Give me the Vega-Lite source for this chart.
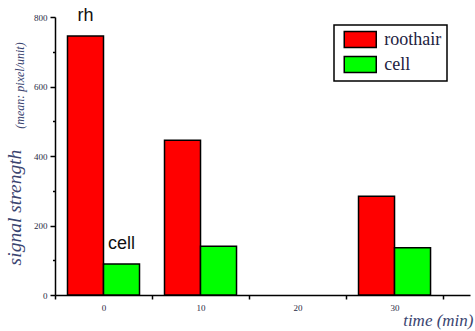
{
  "$schema": "https://vega.github.io/schema/vega-lite/v6.json",
  "width": 415,
  "height": 278,
  "autosize": "none",
  "padding": {"left": 55, "top": 17, "right": 5, "bottom": 36},
  "background": "white",
  "config": {"view": {"stroke": null}},
  "data": {
    "values": [
      {"time": "0", "series": "roothair", "value": 745, "label": "rh"},
      {"time": "0", "series": "cell", "value": 89, "label": "cell"},
      {"time": "10", "series": "roothair", "value": 445, "label": ""},
      {"time": "10", "series": "cell", "value": 140, "label": ""},
      {"time": "30", "series": "roothair", "value": 284, "label": ""},
      {"time": "30", "series": "cell", "value": 136, "label": ""}
    ]
  },
  "encoding": {
    "x": {
      "field": "time",
      "type": "ordinal",
      "sort": null,
      "scale": {"domain": ["0", "10", "20", "30"], "paddingInner": 0, "paddingOuter": 0.139, "align": 0},
      "axis": {
        "labelAngle": 0,
        "tickBand": "extent",
        "domainColor": "black",
        "domainWidth": 1.5,
        "tickColor": "black",
        "tickWidth": 1.5,
        "tickSize": 4,
        "labelFont": "Liberation Serif",
        "labelFontSize": 9,
        "labelColor": "#2a2a45",
        "labelPadding": 4,
        "title": "time (min)",
        "titleFont": "Liberation Serif",
        "titleFontStyle": "italic",
        "titleFontWeight": "normal",
        "titleFontSize": 17,
        "titleColor": "#3a4470",
        "titleAlign": "right",
        "titleBaseline": "alphabetic",
        "titleX": 418,
        "titleY": 30
      }
    },
    "xOffset": {
      "field": "series",
      "sort": ["roothair", "cell"],
      "scale": {"paddingInner": 0, "paddingOuter": 0.347}
    }
  },
  "layer": [
    {
      "mark": {"type": "bar", "stroke": "black", "strokeWidth": 1.5},
      "encoding": {
        "y": {
          "field": "value",
          "type": "quantitative",
          "scale": {"domain": [0, 800], "nice": false},
          "axis": {
            "values": [0, 100, 200, 300, 400, 500, 600, 700, 800],
            "labelExpr": "datum.value % 200 === 0 ? datum.label : ''",
            "grid": false,
            "domainColor": "black",
            "domainWidth": 1.5,
            "tickColor": "black",
            "tickWidth": 1.5,
            "tickSize": {"condition": {"test": "datum.value % 200 === 0", "value": 5}, "value": 2.5},
            "labelFont": "Liberation Serif",
            "labelFontSize": 9,
            "labelColor": "#2a2a45",
            "labelPadding": 3,
            "title": "signal strength",
            "titleFont": "Liberation Serif",
            "titleFontStyle": "italic",
            "titleFontWeight": "normal",
            "titleFontSize": 19.5,
            "titleColor": "#3a4470",
            "titleAlign": "center",
            "titleBaseline": "alphabetic",
            "titleAngle": -90,
            "titleX": -35,
            "titleY": 190
          }
        },
        "color": {
          "field": "series",
          "type": "nominal",
          "sort": ["roothair", "cell"],
          "scale": {"domain": ["roothair", "cell"], "range": ["#ff0000", "#00ff00"]},
          "legend": {
            "title": null,
            "orient": "none",
            "legendX": 279,
            "legendY": 8,
            "padding": 5.5,
            "strokeColor": "black",
            "symbolType": "M-2,-1H2V1H-2Z",
            "symbolSize": 256,
            "symbolOffset": 11.75,
            "symbolStrokeColor": "black",
            "symbolStrokeWidth": 1.5,
            "symbolOpacity": 1,
            "labelFont": "Liberation Serif",
            "labelFontSize": 18,
            "labelColor": "#222240",
            "labelOffset": 15,
            "rowPadding": 3,
            "encode": {"legend": {"update": {"strokeWidth": {"value": 1.5}}}}
          }
        }
      }
    },
    {
      "transform": [{"filter": "datum.label !== ''"}],
      "mark": {"type": "text", "font": "Liberation Sans", "fontSize": 18, "baseline": "alphabetic", "dy": -15, "color": "#111111"},
      "encoding": {
        "y": {
          "field": "value",
          "type": "quantitative",
          "scale": {"domain": [0, 800], "nice": false},
          "axis": {
            "orient": "left",
            "labels": false,
            "ticks": false,
            "domain": false,
            "grid": false,
            "title": "(mean: pixel/unit)",
            "titleFont": "Liberation Serif",
            "titleFontStyle": "italic",
            "titleFontWeight": "normal",
            "titleFontSize": 12,
            "titleColor": "#3a4470",
            "titleAlign": "center",
            "titleBaseline": "alphabetic",
            "titleAngle": -90,
            "titleX": -32,
            "titleY": 68
          }
        },
        "text": {"field": "label"}
      }
    }
  ],
  "resolve": {"scale": {"y": "independent"}, "axis": {"y": "independent"}}
}
